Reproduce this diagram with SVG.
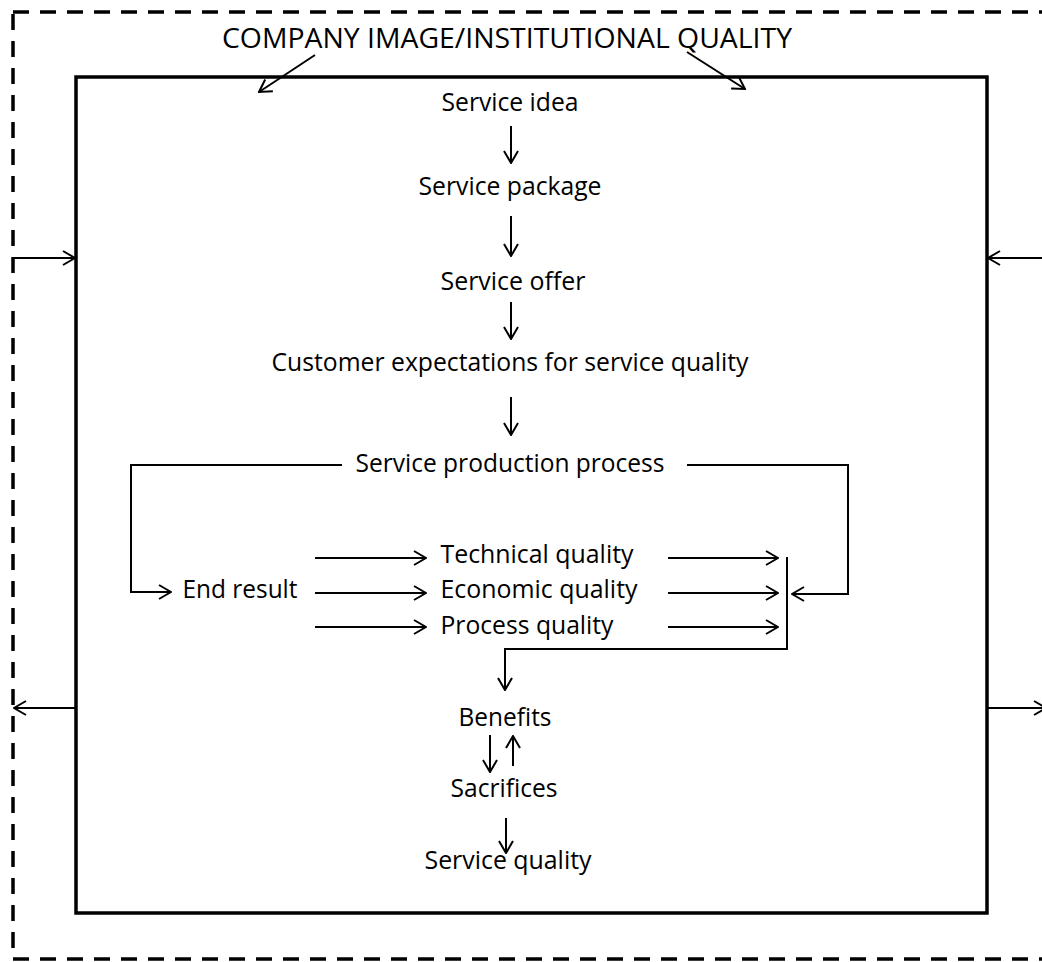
<svg xmlns="http://www.w3.org/2000/svg" width="1042" height="962" viewBox="0 0 1042 962">
<defs>
<marker id="ah" viewBox="0 0 14 16" refX="13" refY="8" markerWidth="14" markerHeight="16" markerUnits="userSpaceOnUse" orient="auto">
<path d="M1,1 L13,8 L1,15" fill="none" stroke="#000" stroke-width="2"/>
</marker>
<style>
text{font-family:"Open Sans","Liberation Sans",sans-serif;font-size:25px;fill:#000;text-anchor:middle}
.t{font-size:28px}
.a{fill:none;stroke:#000;stroke-width:2;marker-end:url(#ah)}
.outer{fill:none;stroke:#000;stroke-width:3.5;stroke-dasharray:16 11}
.inner{fill:#fff;stroke:#000;stroke-width:3.5}
</style>
</defs>
<rect class="outer" x="13" y="12" width="1060" height="947"/>
<rect class="inner" x="76" y="77" width="911" height="836"/>
<g id="title"><text class="t" x="507" y="48" textLength="570" lengthAdjust="spacingAndGlyphs">COMPANY IMAGE/INSTITUTIONAL QUALITY</text></g>
<g id="n-idea"><text x="510" y="111" textLength="137" lengthAdjust="spacingAndGlyphs">Service idea</text></g>
<g id="n-package"><text x="510" y="195" textLength="183" lengthAdjust="spacingAndGlyphs">Service package</text></g>
<g id="n-offer"><text x="513" y="290" textLength="145" lengthAdjust="spacingAndGlyphs">Service offer</text></g>
<g id="n-expect"><text x="510" y="371" textLength="477" lengthAdjust="spacingAndGlyphs">Customer expectations for service quality</text></g>
<g id="n-process"><text x="510" y="472" textLength="309" lengthAdjust="spacingAndGlyphs">Service production process</text></g>
<g id="n-end"><text x="240" y="598" textLength="115" lengthAdjust="spacingAndGlyphs">End result</text></g>
<g id="n-tech"><text x="537" y="563" textLength="193" lengthAdjust="spacingAndGlyphs">Technical quality</text></g>
<g id="n-econ"><text x="539" y="598" textLength="197" lengthAdjust="spacingAndGlyphs">Economic quality</text></g>
<g id="n-procq"><text x="527" y="634" textLength="173" lengthAdjust="spacingAndGlyphs">Process quality</text></g>
<g id="n-benefits"><text x="505" y="726" textLength="93" lengthAdjust="spacingAndGlyphs">Benefits</text></g>
<g id="n-sacrifices"><text x="504" y="797" textLength="107" lengthAdjust="spacingAndGlyphs">Sacrifices</text></g>
<g id="n-quality"><text x="508" y="869" textLength="167" lengthAdjust="spacingAndGlyphs">Service quality</text></g>
<g id="connectors">
<line class="a" x1="315" y1="55" x2="259" y2="92"/>
<line class="a" x1="687" y1="52" x2="745" y2="89"/>
<line class="a" x1="14" y1="258" x2="75" y2="258"/>
<line class="a" x1="1042" y1="258" x2="988" y2="258"/>
<line class="a" x1="75" y1="708" x2="14" y2="708"/>
<line class="a" x1="988" y1="708" x2="1046" y2="708"/>
<line class="a" x1="511" y1="126" x2="511" y2="163"/>
<line class="a" x1="511" y1="216" x2="511" y2="256"/>
<line class="a" x1="511" y1="302" x2="511" y2="339"/>
<line class="a" x1="511" y1="397" x2="511" y2="435"/>
<polyline class="a" points="342,465 131,465 131,592 171,592"/>
<polyline class="a" points="687,465 848,465 848,594 792,594"/>
<line class="a" x1="315" y1="558" x2="426" y2="558"/>
<line class="a" x1="315" y1="593" x2="426" y2="593"/>
<line class="a" x1="315" y1="627" x2="426" y2="627"/>
<line class="a" x1="668" y1="558" x2="778" y2="558"/>
<line class="a" x1="668" y1="593" x2="778" y2="593"/>
<line class="a" x1="668" y1="627" x2="778" y2="627"/>
<polyline class="a" points="787,557 787,649 505,649 505,690"/>
<line class="a" x1="490" y1="735" x2="490" y2="772"/>
<line class="a" x1="513" y1="766" x2="513" y2="736"/>
<line class="a" x1="506" y1="818" x2="506" y2="853"/>
</g>
</svg>
